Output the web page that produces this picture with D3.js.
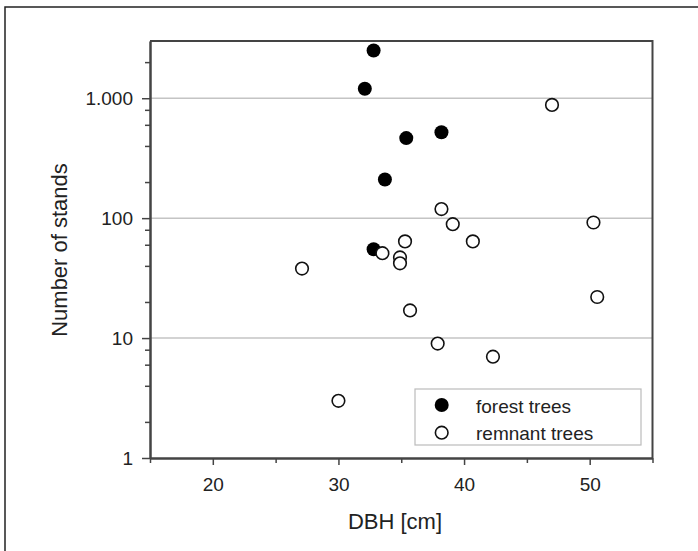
<!DOCTYPE html>
<html>
<head>
<meta charset="utf-8">
<script src="https://cdn.jsdelivr.net/npm/d3@7"></script>
<style>
  body { margin: 0; background: #fff; }
  text { font-family: "Liberation Sans", Arial, sans-serif; fill: #222; }
</style>
</head>
<body>
<svg width="698" height="551"></svg>
<script>
// values
const forestDbh = [32.8, 32.1, 35.4, 38.2, 33.7, 32.8];
const forestStands = [2500, 1200, 465, 520, 210, 55];
const remnantDbh = [47.0, 38.2, 39.1, 40.7, 35.3, 50.3, 33.5, 34.9, 34.9, 27.1, 50.6, 35.7, 37.9, 42.3, 30.0];
const remnantStands = [880, 119, 89, 64, 64, 92, 51, 47, 42, 38, 22, 17, 9, 7, 3];
const xTicks = [20, 30, 40, 50];
const xMinorTicks = [15, 25, 35, 45, 55];
const yTicks = [1, 10, 100, 1000];
const yMinorTicks = [2, 4, 6, 8, 20, 40, 60, 80, 200, 400, 600, 800, 2000];
const gridValues = [10, 100, 1000];
const legendLabels = ["forest trees", "remnant trees"];

var svg = d3.select("svg");
var width = +svg.attr("width");
var height = +svg.attr("height");

var plot = { left: 150, right: 652.5, top: 41, bottom: 458 };

const de = d3.formatLocale({ decimal: ",", thousands: ".", grouping: [3], currency: ["", " €"] });
const yFormat = de.format(",d");

const xScale = d3.scaleLinear().domain([15, 55]).range([plot.left, plot.right]);
const yScale = d3.scaleLog().domain([1, 3000]).range([plot.bottom, plot.top]);

// outer frame
svg.append("rect")
  .attr("x", 5).attr("y", 7)
  .attr("width", width + 10).attr("height", height + 10)
  .attr("fill", "none").attr("stroke", "#222").attr("stroke-width", 1.5);

// grid lines
svg.append("g").selectAll("line")
  .data(gridValues)
  .enter()
  .append("line")
  .attr("x1", plot.left).attr("x2", plot.right)
  .attr("y1", (d) => yScale(d)).attr("y2", (d) => yScale(d))
  .attr("stroke", "#c4c4c4").attr("stroke-width", 1.5);

// axes
const styleAxis = (g) => {
  g.select(".domain").attr("stroke", "#444").attr("stroke-width", 2);
  g.selectAll(".tick line").attr("stroke", "#444").attr("stroke-width", 1.5);
  g.selectAll(".tick text").style("font-size", "19px").attr("fill", "#222");
};

svg.append("g")
  .attr("transform", `translate(0, ${plot.bottom})`)
  .call(d3.axisBottom(xScale).tickValues(xMinorTicks).tickSize(5).tickSizeOuter(0).tickFormat(""))
  .call(styleAxis);
svg.append("g")
  .attr("transform", `translate(0, ${plot.bottom})`)
  .call(d3.axisBottom(xScale).tickValues(xTicks).tickSize(7).tickSizeOuter(0).tickPadding(13))
  .call(styleAxis);

svg.append("g")
  .attr("transform", `translate(${plot.left}, 0)`)
  .call(d3.axisLeft(yScale).tickValues(yMinorTicks).tickSize(5).tickSizeOuter(0).tickFormat(""))
  .call(styleAxis);
svg.append("g")
  .attr("transform", `translate(${plot.left}, 0)`)
  .call(d3.axisLeft(yScale).tickValues(yTicks).tickSize(8).tickSizeOuter(0).tickPadding(9).tickFormat(yFormat))
  .call(styleAxis);

// top and right frame of the plot
svg.append("path")
  .attr("d", `M${plot.left},${plot.top}H${plot.right}V${plot.bottom}`)
  .attr("fill", "none").attr("stroke", "#444").attr("stroke-width", 2);

// points
const forest = forestDbh.map((d, i) => ({ dbh: d, n: forestStands[i] }));
const remnant = remnantDbh.map((d, i) => ({ dbh: d, n: remnantStands[i] }));

svg.append("g").selectAll("circle")
  .data(forest)
  .enter()
  .append("circle")
  .attr("cx", (d) => xScale(d.dbh))
  .attr("cy", (d) => yScale(d.n))
  .attr("r", 7)
  .attr("fill", "#000");

svg.append("g").selectAll("circle")
  .data(remnant)
  .enter()
  .append("circle")
  .attr("cx", (d) => xScale(d.dbh))
  .attr("cy", (d) => yScale(d.n))
  .attr("r", 6.3)
  .attr("fill", "#fff")
  .attr("stroke", "#111")
  .attr("stroke-width", 1.6);

// legend
const legend = svg.append("g");
legend.append("rect")
  .attr("x", 415).attr("y", 389).attr("width", 226).attr("height", 56)
  .attr("fill", "#fff").attr("stroke", "#bbb").attr("stroke-width", 1.2);

const items = legend.selectAll("g.item")
  .data(legendLabels)
  .enter()
  .append("g")
  .attr("class", "item")
  .attr("transform", (d, i) => `translate(0, ${405 + i * 27.7})`);

items.append("circle")
  .attr("cx", 441.7).attr("cy", 0)
  .attr("r", (d, i) => (i == 0 ? 7 : 6.3))
  .attr("fill", (d, i) => (i == 0 ? "#000" : "#fff"))
  .attr("stroke", (d, i) => (i == 0 ? "none" : "#111"))
  .attr("stroke-width", 1.6);

items.append("text")
  .attr("x", 476).attr("y", 7.5)
  .style("font-size", "19px")
  .text((d) => d);

// axis titles
svg.append("text")
  .attr("x", 395).attr("y", 529)
  .attr("text-anchor", "middle")
  .style("font-size", "22px")
  .text("DBH [cm]");

svg.append("text")
  .attr("transform", "translate(67, 250) rotate(-90)")
  .attr("text-anchor", "middle")
  .style("font-size", "22px")
  .text("Number of stands");
</script>
</body>
</html>
